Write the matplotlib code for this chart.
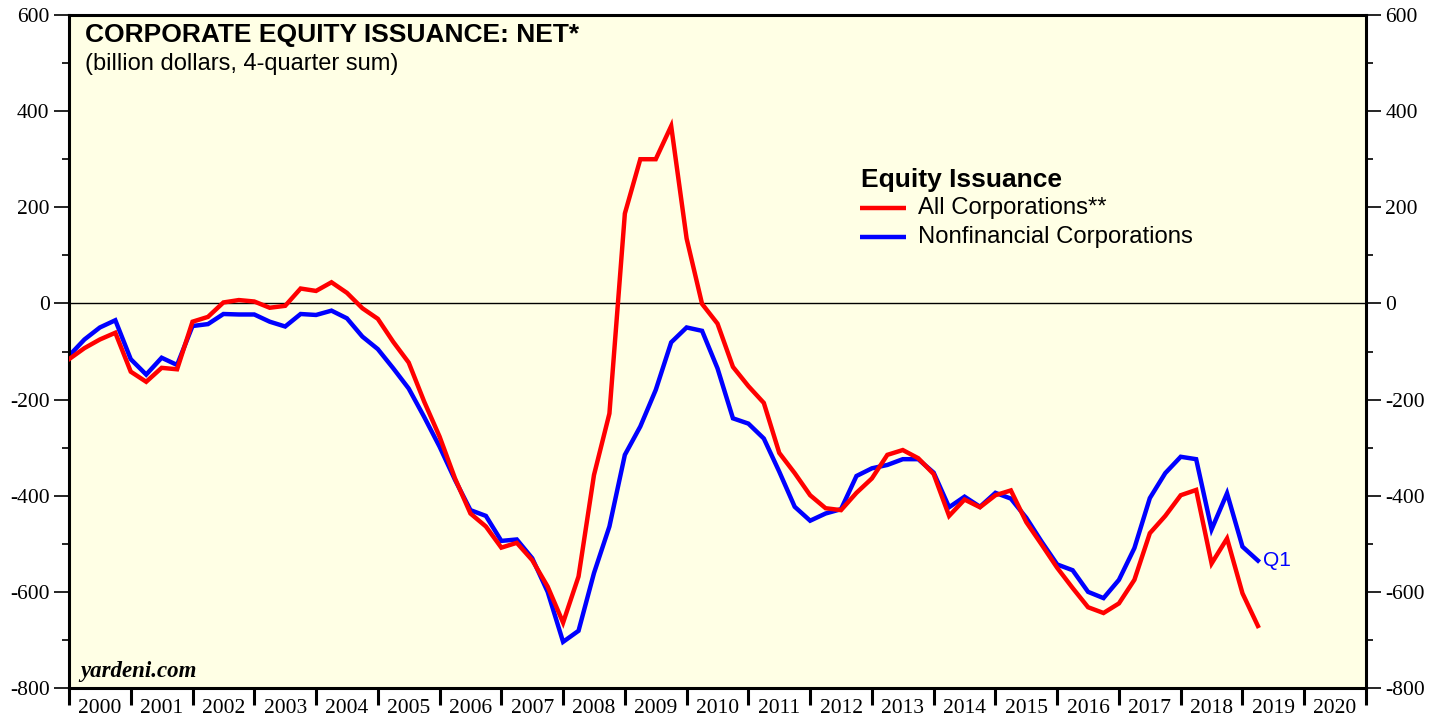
"""
Corporate equity issuance, net (4-quarter sum), all vs nonfinancial corporations.
"""

import numpy as np
import matplotlib
matplotlib.use("Agg")
import matplotlib.pyplot as plt
from matplotlib.ticker import MultipleLocator, FixedLocator, NullFormatter

plt.rcParams["axes.unicode_minus"] = False

# quarterly values, first point 1999 Q4, last point 2019 Q1 (billion dollars)
start_year = 1999
start_quarter = 4

all_corps = [
    -116, -93, -75, -61, -142, -163, -134, -137, -38, -28,
    2, 7, 4, -9, -5, 31, 26, 44, 22, -10,
    -32, -80, -123, -204, -277, -364, -437, -464, -508, -498,
    -534, -589, -664, -568, -357, -229, 187, 300, 300, 369,
    135, -1, -42, -132, -172, -207, -311, -353, -399, -426,
    -430, -394, -364, -315, -305, -322, -355, -442, -408, -424,
    -399, -389, -455, -502, -550, -592, -632, -644, -624, -575,
    -478, -442, -399, -388, -541, -489, -603, -671,
]

nonfin_corps = [
    -109, -75, -50, -35, -116, -148, -113, -128, -47, -43,
    -22, -23, -23, -38, -48, -22, -24, -15, -31, -69,
    -95, -135, -177, -236, -298, -367, -430, -442, -494, -491,
    -530, -600, -704, -681, -561, -464, -315, -256, -180, -81,
    -50, -57, -135, -239, -250, -281, -350, -423, -452, -437,
    -428, -359, -343, -336, -324, -324, -352, -424, -402, -423,
    -394, -406, -446, -496, -543, -555, -600, -613, -575, -509,
    -405, -353, -319, -324, -470, -395, -506, -535,
]

years = list(range(2000, 2021))
y_ticks = [-800, -600, -400, -200, 0, 200, 400, 600]

# quarter-end positions on a fractional-year axis
q_idx = np.arange(len(all_corps))
x = start_year + start_quarter / 4 + q_idx * 0.25

bg = "#FFFFE5"
serif = ["Liberation Serif", "DejaVu Serif"]
sans = ["Liberation Sans", "DejaVu Sans"]

fig = plt.figure(figsize=(14.4, 7.19), dpi=100)
ax = fig.add_axes([69 / 1440, 31 / 719, (1366 - 69) / 1440, (688 - 15) / 719])
ax.set_facecolor(bg)

ax.axhline(0, color="black", lw=1.0, zorder=1)
ax.plot(x, all_corps, color="#FF0000", lw=3.2, zorder=3, solid_joinstyle="miter")
ax.plot(x, nonfin_corps, color="#0000FF", lw=3.2, zorder=2, solid_joinstyle="miter")

ax.set_xlim(2000, 2021)
ax.set_ylim(-800, 600)

for s in ax.spines.values():
    s.set_linewidth(2.2)

# y axis on both sides
ax.yaxis.set_major_locator(FixedLocator(y_ticks))
ax.yaxis.set_minor_locator(MultipleLocator(100))
ax.tick_params(axis="y", which="major", direction="out", length=11, width=1.2,
               left=True, right=True, labelleft=True, labelright=True,
               labelsize=15.5, pad=3)
ax.tick_params(axis="y", which="minor", direction="out", length=5, width=1.2,
               left=True, right=True)
for lab in ax.get_yticklabels():
    lab.set_fontfamily(serif)

# x axis: year boundaries as ticks, labels centred between them
ax.xaxis.set_major_locator(FixedLocator(years + [2021]))
ax.xaxis.set_major_formatter(NullFormatter())
ax.xaxis.set_minor_locator(FixedLocator([yr + 0.5 for yr in years]))
ax.set_xticklabels([str(yr) for yr in years], minor=True)
ax.tick_params(axis="x", which="major", direction="out", length=12, width=2.2)
ax.tick_params(axis="x", which="minor", length=0, labelsize=15.5, pad=8)
for lab in ax.get_xticklabels(minor=True):
    lab.set_fontfamily(serif)

# titles inside the plot
ax.text(0.012, 0.970, "CORPORATE EQUITY ISSUANCE: NET*", transform=ax.transAxes,
        fontsize=19, fontweight="bold", family=sans, va="center", ha="left")
ax.text(0.012, 0.927, "(billion dollars, 4-quarter sum)", transform=ax.transAxes,
        fontsize=17, family=sans, va="center", ha="left")
ax.text(0.009, 0.024, "yardeni.com", transform=ax.transAxes, fontsize=16.5,
        fontweight="bold", fontstyle="italic", family=serif, va="center", ha="left")

# legend drawn by hand
ax.text(0.611, 0.755, "Equity Issuance", transform=ax.transAxes, fontsize=19,
        fontweight="bold", family=sans, va="center", ha="left")
leg_items = [("All Corporations**", "#FF0000", 0.713),
             ("Nonfinancial Corporations", "#0000FF", 0.670)]
for label, color, ypos in leg_items:
    ax.plot([0.610, 0.645], [ypos, ypos], transform=ax.transAxes, color=color,
            lw=3.2, solid_capstyle="butt")
    ax.text(0.6545, ypos, label, transform=ax.transAxes, fontsize=17.2,
            family=sans, va="center", ha="left")

ax.text(x[-1] + 0.08, nonfin_corps[-1], "Q1", color="#0000FF", fontsize=15,
        family=sans, va="center", ha="left")

fig.savefig("out.png", dpi=100, facecolor="white")
